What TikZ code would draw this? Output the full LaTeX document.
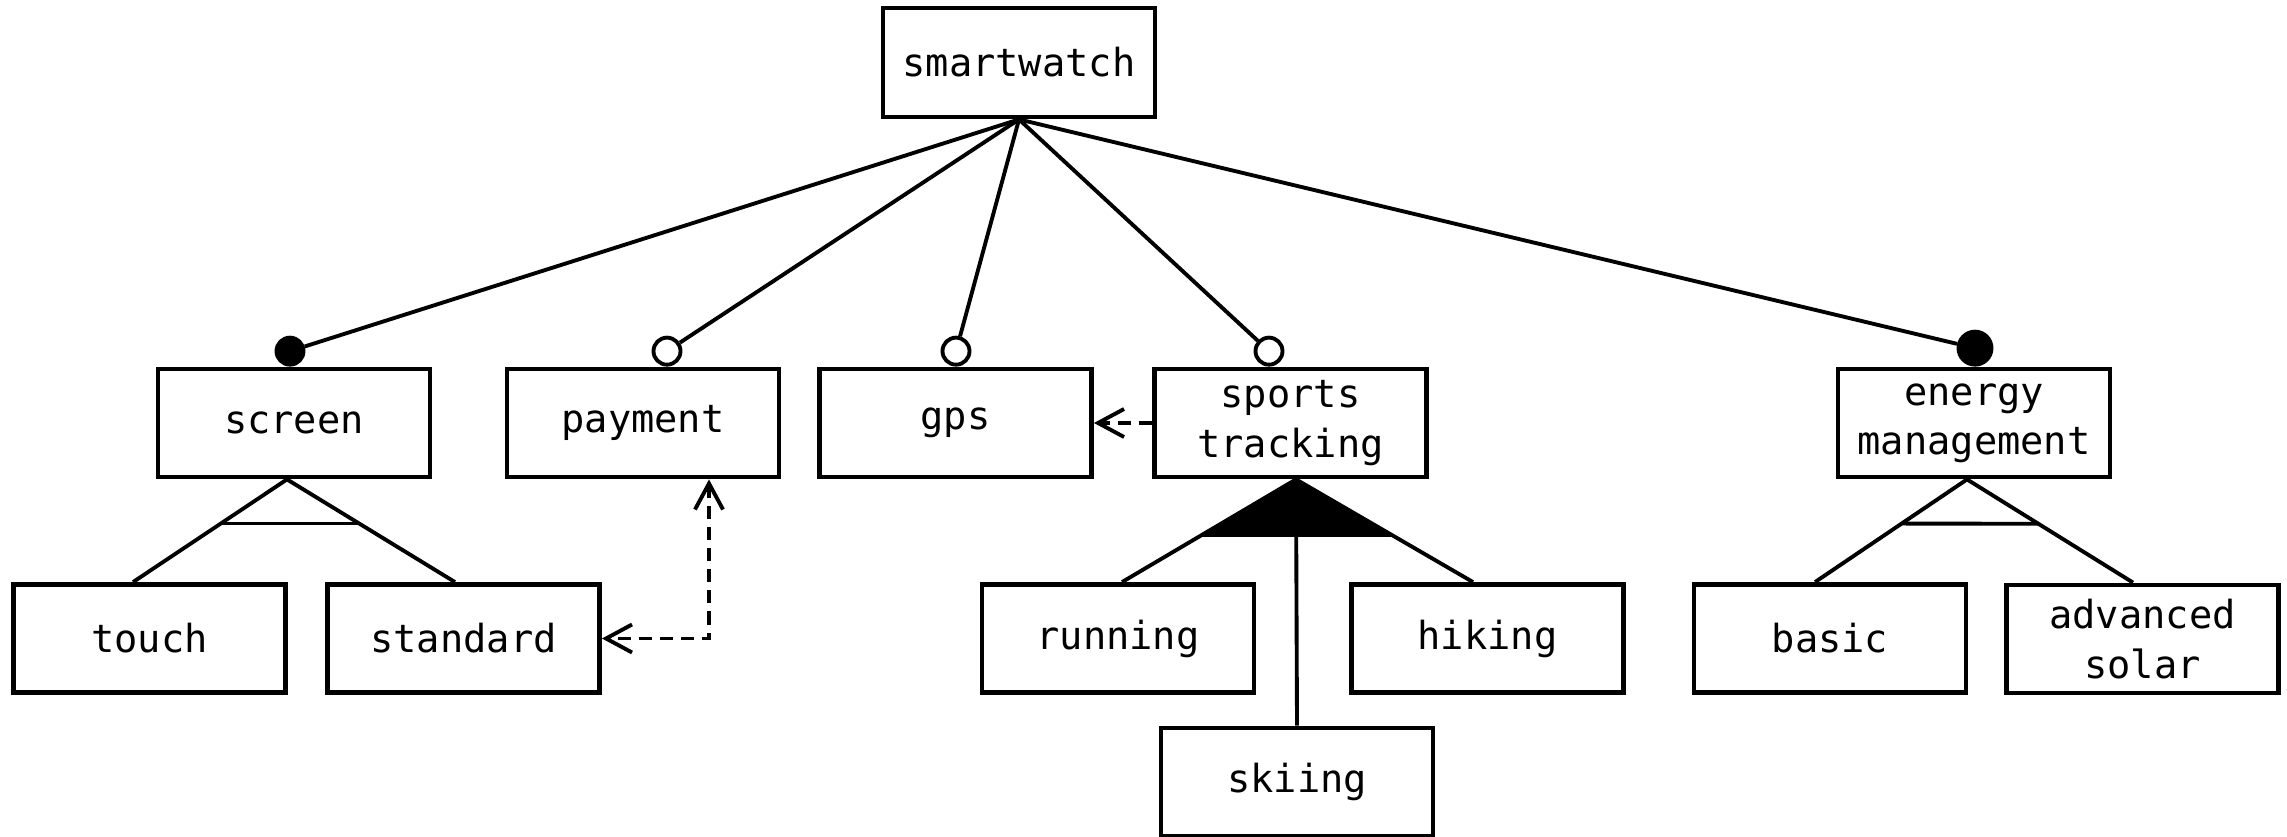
\documentclass[tikz,border=0pt]{standalone}
\usepackage{fontspec}
\newfontfamily\boxfont{DejaVu Sans Mono}
\usetikzlibrary{arrows.meta,calc}

\begin{document}
\begin{tikzpicture}[x=0.01cm,y=-0.01cm,
  feature/.style={draw, line width=1.35pt, minimum width=2.72cm, minimum height=1.08cm,
    inner sep=0pt, align=center, font=\boxfont\fontsize{11}{14}\selectfont},
  link/.style={line width=1.1pt},
  optional/.style={circle, draw, line width=1.1pt, fill=white, minimum size=0.27cm, inner sep=0pt, anchor=south},
  mandatory/.style={circle, draw, line width=1.1pt, fill=black, minimum size=0.27cm, inner sep=0pt, anchor=south},
  openv/.tip={Straight Barb[length=0.26cm,width=0.28cm]},
  requires/.style={line width=1.1pt, dash pattern=on 0.13cm off 0.08cm},
]
\useasboundingbox (0,0) rectangle (2287,837);

% features
\node[feature, minimum height=1.09cm] (root) at (1019,62.5) {smartwatch};
\node[feature] (screen)   at (294,423)    {screen};
\node[feature] (payment)  at (643,423)    {payment};
\node[feature] (gps)      at (955.5,423)  {gps};
\node[feature] (sports)   at (1290.5,423) {sports\\tracking};
\node[feature] (energy)   at (1974,423)   {energy\\management};
\node[feature] (touch)    at (149.5,638.5)  {touch};
\node[feature] (standard) at (463.5,638.5)  {standard};
\node[feature] (running)  at (1118,638.5)   {running};
\node[feature] (hiking)   at (1487.5,638.5) {hiking};
\node[feature] (skiing)   at (1297,782)     {skiing};
\node[feature] (basic)    at (1830,638.5)   {basic};
\node[feature] (advanced) at (2142.5,639)   {advanced\\solar};

% mandatory / optional markers
\node[mandatory] (mScreen) at ($(screen.north)+(-4,0)$) {};
\node[optional]  (oPay)    at ($(payment.north)+(24,0)$) {};
\node[optional]  (oGps)    at ($(gps.north)+(0.5,0)$) {};
\node[optional]  (oSport)  at ($(sports.north)+(-21.5,0)$) {};
\node[mandatory, minimum size=0.33cm] (mEnergy) at ($(energy.north)+(1,0)$) {};

\foreach \m in {mScreen,oPay,oGps,oSport,mEnergy}
  \draw[link] (root.south) -- (\m);

% screen: alternative group
\coordinate (scA) at ($(screen.south)+(-7,0)$);
\coordinate (toA) at ($(touch.north)+(-16.5,0)$);
\coordinate (stA) at ($(standard.north)+(-8.5,0)$);
\draw[link] (toA) -- (scA) -- (stA);
\draw[link] ($(scA)!0.43!(toA)$) -- ($(scA)!0.43!(stA)$);

% sports tracking: or group
\coordinate (spA) at ($(sports.south)+(5.5,0)$);
\coordinate (ruA) at ($(running.north)+(4,0)$);
\coordinate (hiA) at ($(hiking.north)+(-14.5,0)$);
\fill (spA) -- ($(spA)!0.56!(ruA)$) -- ($(spA)!0.56!(hiA)$) -- cycle;
\draw[link] (ruA) -- (spA) -- (hiA);
\draw[link] (spA) -- (skiing.north);

% energy management: alternative group
\coordinate (enA) at ($(energy.south)+(-7,0)$);
\coordinate (baA) at ($(basic.north)+(-15,0)$);
\coordinate (adA) at ($(advanced.north)+(-9.5,0)$);
\draw[link] (baA) -- (enA) -- (adA);
\draw[link] ($(enA)!0.43!(baA)$) -- ($(enA)!0.43!(adA)$);

% cross-tree constraints
\draw[requires, -openv] (sports.west) -- (gps.east);
\draw[requires, openv-openv] ($(payment.south)+(66,0)$) |- (standard.east);
\end{tikzpicture}
\end{document}
